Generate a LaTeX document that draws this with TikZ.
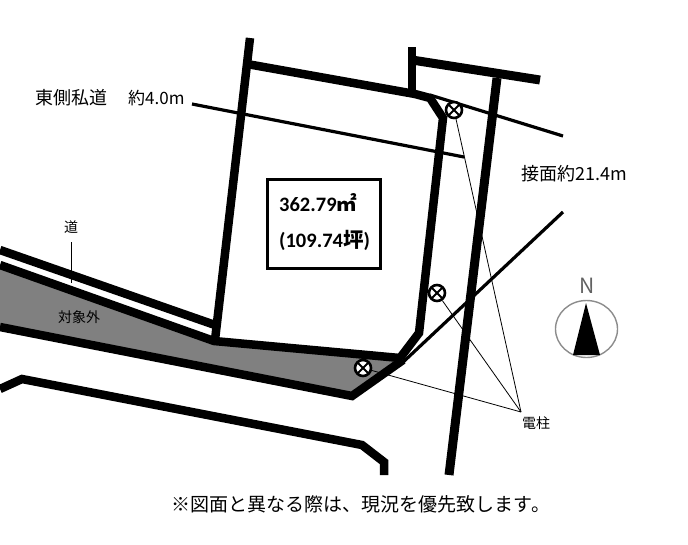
\documentclass[tikz,border=0pt]{standalone}
\usepackage{fontspec}
\setmainfont{Noto Sans CJK JP}
\newfontfamily\boldlatin{Carlito}
\usetikzlibrary{calc,positioning,shapes.geometric}
\tikzset{
	x=1pt,
	y=-1pt,
	roadline/.style={line width=8.5pt, line join=miter},
	midline/.style={line width=3.2pt},
	thinline/.style={line width=0.8pt},
	label/.style={inner sep=0pt, font=\fontsize{#1}{#1}\selectfont},
	label/.default=18,
	pole/.style={circle, draw, line width=2.6pt, fill=white, inner sep=0pt, minimum size=16pt,
		path picture={
			\draw[line width=2pt] (path picture bounding box.north east) -- (path picture bounding box.south west);
			\draw[line width=2pt] (path picture bounding box.north west) -- (path picture bounding box.south east);
		}},
	bignum/.style={inner sep=0pt, anchor=west, font=\fontsize{20.5}{20.5}\selectfont\bfseries},
}
\definecolor{outgray}{rgb}{0.5,0.5,0.5}
\definecolor{northgray}{rgb}{0.55,0.55,0.55}

\begin{document}
\begin{tikzpicture}
		\useasboundingbox (0,0) rectangle (688,544);

		\fill[outgray] (0,266) -- (214,341) -- (400,358) -- (352,396) -- (0,326) -- cycle;

		\draw[roadline] (250,38) -- (215,340);
		\draw[roadline] (247,64) -- (415,94) -- (430,98) -- (443,118) -- (419,333) -- (400,358);
		\draw[roadline] (412,47) -- (412,95);
		\draw[roadline, line width=9pt] (412,60) -- (540,80);
		\draw[roadline, line width=9pt] (497,78) -- (449,475);
		\draw[roadline] (0,250) -- (215,325);
		\draw[roadline] (0,265) -- (214,341) -- (400,358);
		\draw[roadline] (0,327) -- (352,396) -- (403,360);
		\draw[roadline] (0,389) -- (22,379) -- (362,445) -- (384,462) -- (384,475);

		\coordinate (diagA) at (563,212);
		\coordinate (diagB) at (400,365);
		\coordinate (eastA) at (192,104);
		\coordinate (eastB) at (464,157);
		\coordinate (frontA) at (430,95);
		\coordinate (frontB) at (563,136);
		\coordinate (michiEnd) at (71,283);
		\coordinate (polesEnd) at (521,412);

		\draw[midline] (diagA) -- (diagB);
		\draw[midline] (eastA) -- (eastB);
		\draw[midline] (frontA) -- (frontB);

		\node[pole] (pole1) at (454,110) {};
		\node[pole] (pole2) at (437,293) {};
		\node[pole] (pole3) at (363,368) {};
		\node[label=14] (denchu) at (536,423) {電柱};

		\draw[thinline] (pole1) -- (polesEnd);
		\draw[thinline] (pole2) -- (polesEnd);
		\draw[thinline] (pole3) -- (polesEnd);

		\node[label=14] (michi) at (71,227) {道};
		\draw[thinline, line width=1pt] (michi.south |- 0,242) -- (michiEnd);
		\node[label=14] (taisho) at (79,317) {対象外};

		\node[label, anchor=west] (eastroad) at (35,98) {東側私道};
		\node[label=17, anchor=west] (eastwidth) at (128,98) {約4.0m};
		\node[label=18, anchor=west] (frontage) at (521,174) {接面約21.4m};

		\node[draw, line width=3pt, minimum width=113pt, minimum height=89pt, inner sep=0pt] (areabox) at (323.5,223.5) {};
		\node[bignum] (area) at (279,203) {\boldlatin\textbf{362.79}\normalfont\bfseries ㎡};
		\node[bignum] (tsubo) at (279,240) {\boldlatin\textbf{(109.74}\normalfont\bfseries 坪\boldlatin\textbf{)}};

		\node[label=21, text=northgray!70!black] (north) at (587,286) {N};
		\node[draw=northgray, line width=1.4pt, ellipse, minimum width=62pt, minimum height=57pt, inner sep=0pt] (compass) at (586.5,329) {};
		\fill (586,303) -- (600,355) -- (573,355) -- cycle;

		\node[label=19] (note) at (361,504) {※図面と異なる際は、現況を優先致します。};
	\end{tikzpicture}
\end{document}
